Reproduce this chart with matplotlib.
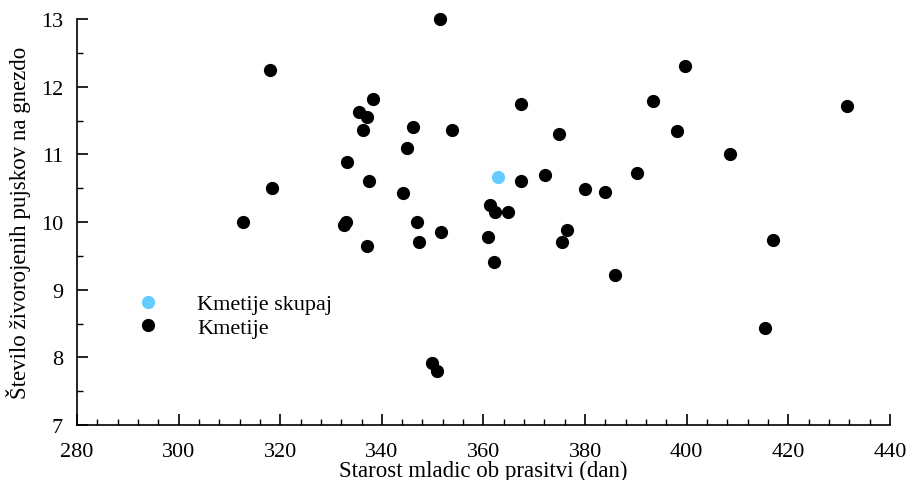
import matplotlib
matplotlib.use("Agg")
import matplotlib.pyplot as plt
from matplotlib.ticker import MultipleLocator

plt.rcParams['font.family'] = ['Liberation Serif', 'DejaVu Serif']

# Data
kmetije_x = [312.7, 318.0, 318.4, 332.5, 333.0, 333.1, 335.5, 336.3, 337.0, 338.3,
             337.5, 337.0, 344.2, 345.0, 346.1, 346.9, 347.3, 349.9, 350.9, 351.5,
             351.7, 353.8, 360.9, 361.3, 362.3, 362.1, 364.8, 367.4, 367.4, 372.1,
             374.9, 375.5, 376.5, 380.0, 383.9, 385.9, 390.2, 393.4, 398.1, 399.7,
             408.5, 415.4, 417.0, 431.6]
kmetije_y = [10.00, 12.25, 10.50, 9.96, 10.00, 10.88, 11.63, 11.36, 11.55, 11.82,
             10.60, 9.64, 10.43, 11.10, 11.40, 10.00, 9.70, 7.92, 7.80, 13.00,
             9.85, 11.36, 9.78, 10.25, 10.15, 9.41, 10.15, 11.74, 10.60, 10.69,
             11.30, 9.70, 9.88, 10.49, 10.44, 9.22, 10.72, 11.79, 11.34, 12.30,
             11.00, 8.43, 9.73, 11.71]
skupaj_x = [362.9]
skupaj_y = [10.66]

xlabel = "Starost mladic ob prasitvi (dan)"
ylabel = "Število živorojenih pujskov na gnezdo"

fig = plt.figure(figsize=(9.14, 4.81), dpi=100)
ax = fig.add_axes([0.0842, 0.1143, 0.8895, 0.8441])

ax.plot(skupaj_x, skupaj_y, 'o', color='#66CCFF', markersize=8.5, label='Kmetije skupaj',
        zorder=3, clip_on=False)
ax.plot(kmetije_x, kmetije_y, 'o', color='black', markersize=8.5, label='Kmetije',
        zorder=2, clip_on=False)

ax.set_xlim(280, 440)
ax.set_ylim(7, 13)
ax.xaxis.set_major_locator(MultipleLocator(20))
ax.xaxis.set_minor_locator(MultipleLocator(4))
ax.yaxis.set_major_locator(MultipleLocator(1))
ax.yaxis.set_minor_locator(MultipleLocator(0.5))

for s in ['top', 'right']:
    ax.spines[s].set_visible(False)
for s in ['left', 'bottom']:
    ax.spines[s].set_linewidth(1.2)

ax.tick_params(which='major', direction='in', length=8, width=1.2, labelsize=16)
ax.tick_params(which='minor', direction='in', length=4, width=1.0)
ax.tick_params(axis='x', which='major', pad=12)
ax.tick_params(axis='y', which='major', pad=10)

ax.set_xlabel(xlabel, fontsize=16.5)
ax.set_ylabel(ylabel, fontsize=16.5)
ax.xaxis.set_label_coords(0.5, -0.085)
ax.yaxis.set_label_coords(-0.056, 0.5)

leg = ax.legend(loc='upper left', bbox_to_anchor=(0.0738, 0.323), frameon=False,
                fontsize=16, handletextpad=1.7, labelspacing=0.12, borderaxespad=0,
                borderpad=0, handlelength=1.0)

fig.savefig('out.png', dpi=100)
